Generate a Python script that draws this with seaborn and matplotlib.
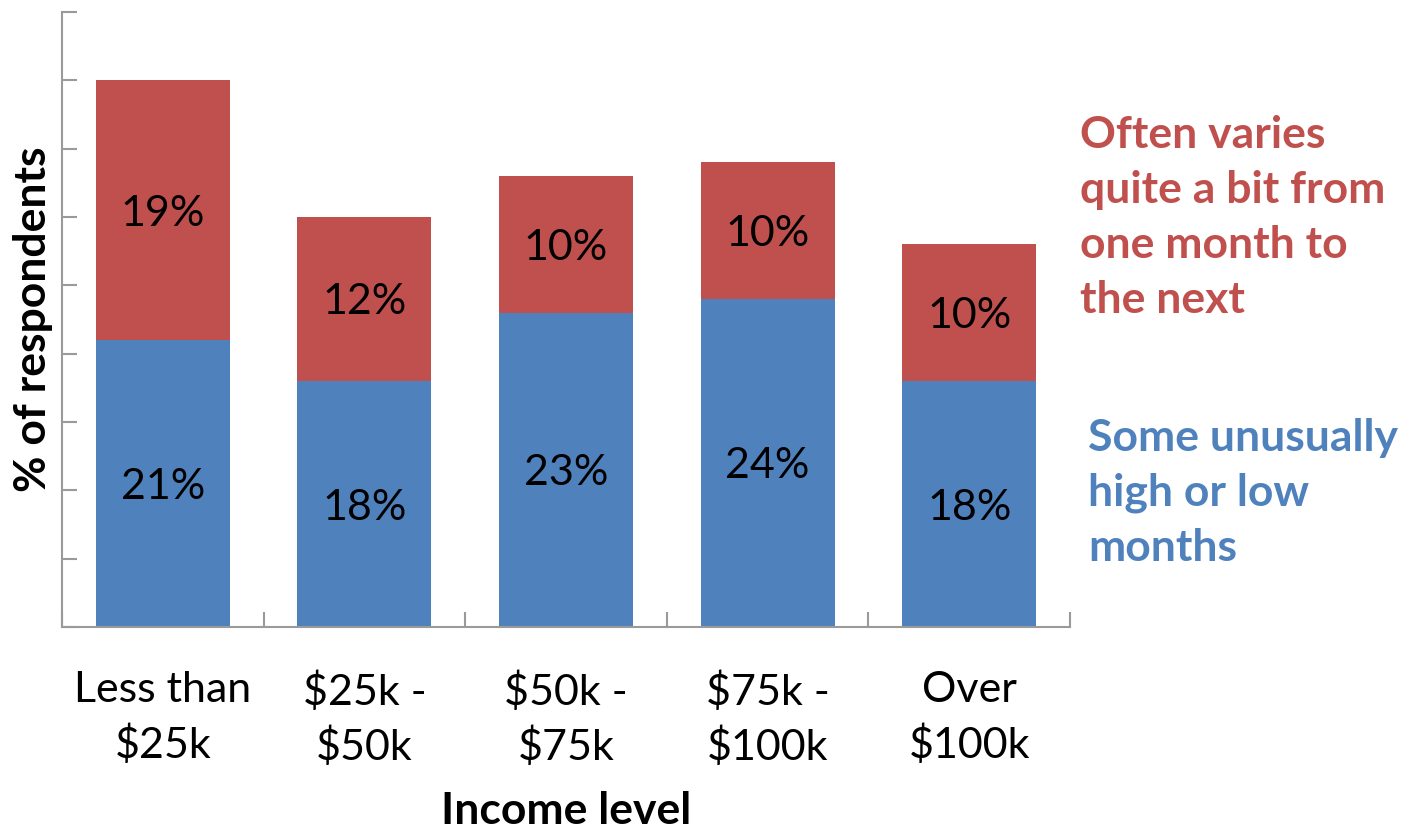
import numpy as np
import pandas as pd
import matplotlib
matplotlib.use("Agg")
import matplotlib.pyplot as plt
import seaborn as sns

# values
income = ["Less than\n$25k", "$25k -\n$50k", "$50k -\n$75k", "$75k -\n$100k", "Over\n$100k"]
unusual = [21, 18, 23, 24, 18]   # blue, bottom
varies = [19, 12, 10, 10, 10]    # red, top

RED = "#C0504D"
BLUE = "#4F81BD"
GREY = "#9A9A9A"

sns.set_style("white")
plt.rcParams["font.family"] = ["Lato", "DejaVu Sans"]
plt.rcParams["text.color"] = "black"
plt.rcParams["axes.labelcolor"] = "black"
plt.rcParams["xtick.labelcolor"] = "black"

df = pd.DataFrame({"income": income, "unusual": unusual, "varies": varies})
df["total"] = df["unusual"] + df["varies"]

fig = plt.figure(figsize=(14.12, 8.31), dpi=100)
ax = fig.add_axes([62 / 1412, 1 - 627 / 831, (1070 - 62) / 1412, (627 - 12) / 831])

sns.barplot(data=df, x="income", y="total", color=RED, width=0.665,
            saturation=1, ax=ax, edgecolor="none")
sns.barplot(data=df, x="income", y="unusual", color=BLUE, width=0.665,
            saturation=1, ax=ax, edgecolor="none")

# segment labels
for i, row in df.iterrows():
    ax.text(i, row["unusual"] / 2, f"{row['unusual']}%", ha="center", va="center_baseline",
            fontsize=31, color="black")
    ax.text(i, row["unusual"] + row["varies"] / 2, f"{row['varies']}%", ha="center",
            va="center_baseline", fontsize=31, color="black")

ax.set_xlim(-0.5, 4.5)
ax.set_ylim(0, 45)
ax.set_yticks(np.arange(0, 46, 5))
ax.set_yticklabels([])
ax.tick_params(axis="y", direction="in", length=11, width=1.5, color=GREY, left=True)

ax.set_xticks(range(5))
ax.set_xticklabels(income, fontsize=31, linespacing=1.44, color="black")
ax.set_xticks(np.arange(-0.5, 5, 1), minor=True)
ax.tick_params(axis="x", which="major", length=0, pad=32)
ax.tick_params(axis="x", which="minor", direction="in", length=11, width=1.5, color=GREY, bottom=True)

for side in ["top", "right"]:
    ax.spines[side].set_visible(False)
for side in ["left", "bottom"]:
    ax.spines[side].set_color(GREY)
    ax.spines[side].set_linewidth(1.5)

ax.set_xlabel("Income level", fontsize=32, fontweight="bold", labelpad=17, color="black")
ax.set_ylabel("% of respondents", fontsize=32, fontweight="bold", labelpad=3, color="black")

fig.text(1080 / 1412, 1 - 115 / 831, "Often varies\nquite a bit from\none month to\nthe next",
         color=RED, fontsize=32, fontweight="bold", ha="left", va="top", linespacing=1.45)
fig.text(1088 / 1412, 1 - 418 / 831, "Some unusually\nhigh or low\nmonths",
         color=BLUE, fontsize=32, fontweight="bold", ha="left", va="top", linespacing=1.45)

fig.savefig("out.png", dpi=100)
